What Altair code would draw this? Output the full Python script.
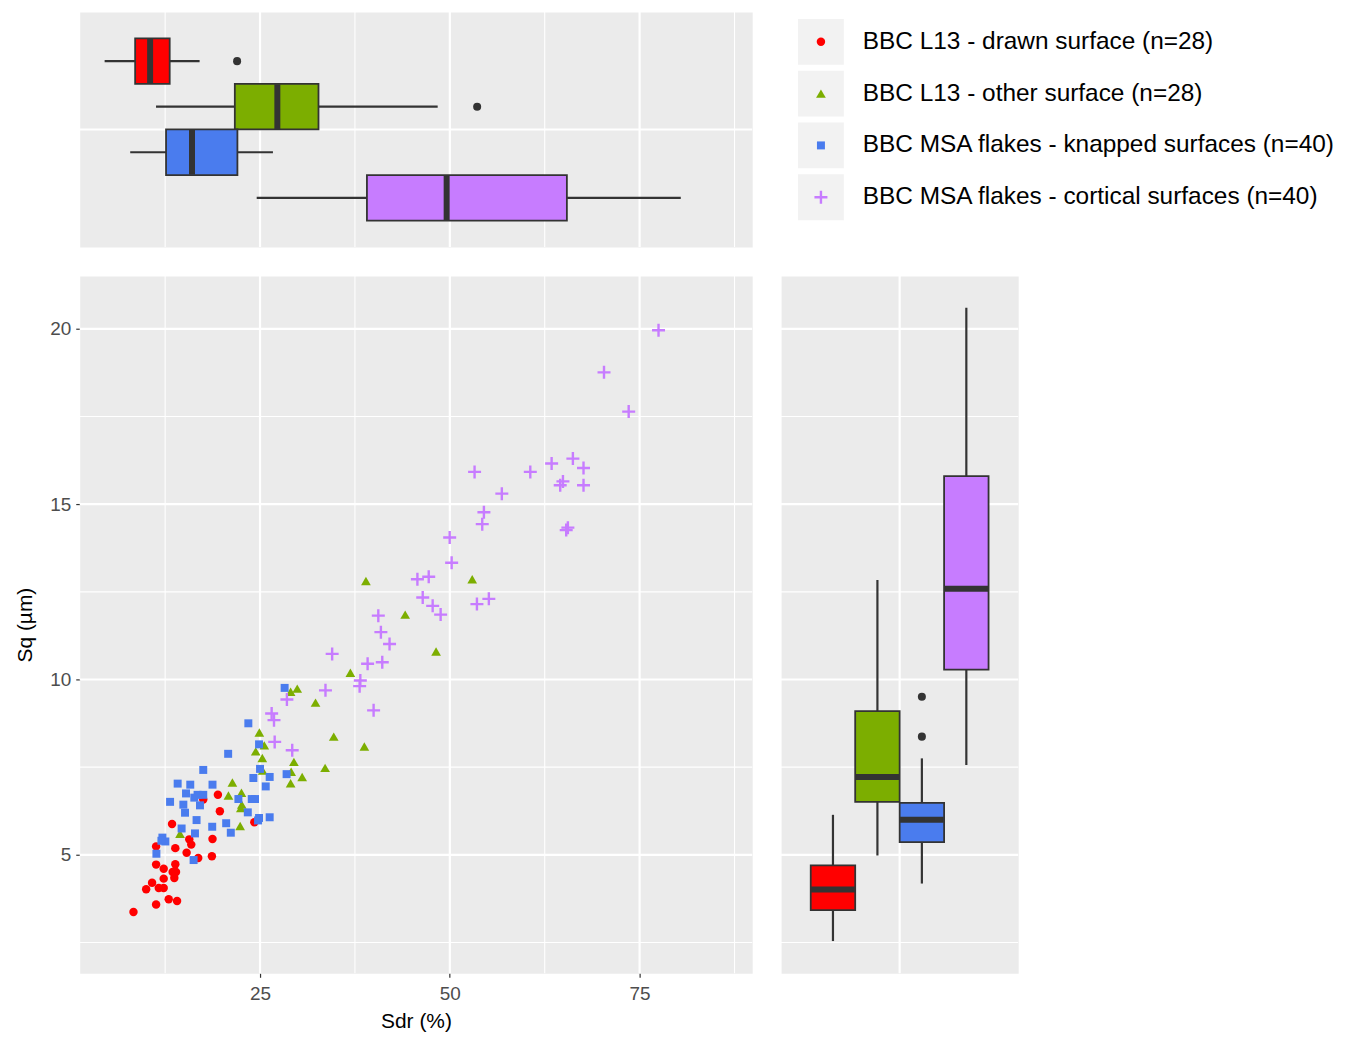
import altair as alt
import pandas as pd

# ---------------- data ----------------
groups = [
    "BBC L13 - drawn surface (n=28)",
    "BBC L13 - other surface (n=28)",
    "BBC MSA flakes - knapped surfaces (n=40)",
    "BBC MSA flakes - cortical surfaces (n=40)",
]
colors = ["#FF0000", "#7CAE00", "#4A7CEE", "#C77CFF"]

red_sdr = [8.33, 11.31, 12.97, 14.07, 10.0, 10.78, 11.66, 12.31, 12.31, 13.71, 13.93, 13.49, 11.31, 12.31,
           13.84, 11.31, 13.84, 13.41, 15.33, 15.68, 15.94, 16.86, 18.66, 18.74, 19.71, 19.45, 17.52, 24.25]
red_sq = [3.37, 3.58, 3.73, 3.68, 4.02, 4.2, 4.05, 4.05, 4.32, 4.34, 4.51, 4.51, 4.72, 4.6,
          4.73, 5.24, 5.19, 5.88, 5.06, 5.44, 5.29, 4.91, 4.96, 5.45, 6.24, 6.71, 6.58, 5.93]

green_sdr = [29.9, 29.03, 32.31, 24.91, 34.71, 25.56, 24.43, 25.3, 25.35, 29.46, 29.1, 33.57, 30.55, 29.03,
             21.36, 22.55, 20.84, 22.6, 22.47, 22.38, 14.46, 38.95, 44.12, 48.19, 36.9, 52.95, 38.74]
green_sq = [9.74, 9.65, 9.34, 8.49, 8.37, 8.12, 7.95, 7.76, 7.4, 7.65, 7.37, 7.48, 7.22, 7.04,
            7.06, 6.77, 6.69, 6.43, 6.33, 5.82, 5.6, 12.81, 11.85, 10.8, 10.19, 12.86, 8.09]

blue_sdr = [28.24, 23.46, 20.8, 17.52, 14.15, 15.81, 18.74, 15.25, 16.77, 17.52, 16.34, 17.09, 13.15, 14.9,
            15.12, 16.64, 14.67, 16.43, 12.14, 12.01, 12.53, 11.35, 16.25, 18.7, 20.54, 21.15, 22.15, 23.91,
            24.34, 23.39, 24.87, 24.74, 26.27, 24.12, 25.75, 26.27, 25.0, 24.87, 28.5]
blue_sq = [9.76, 8.75, 7.88, 7.42, 7.03, 7.0, 7.0, 6.75, 6.71, 6.71, 6.63, 6.41, 6.51, 6.43,
           6.2, 5.99, 5.75, 5.61, 5.49, 5.4, 5.38, 5.03, 4.85, 5.8, 5.9, 5.63, 6.59, 6.59,
           6.59, 6.21, 6.05, 5.98, 6.07, 7.19, 6.95, 7.22, 7.45, 8.15, 7.3]

purple_sdr = [77.49, 70.31, 73.56, 53.26, 60.6, 63.41, 66.21, 67.61, 64.9, 64.54, 67.61, 56.85, 54.49, 54.27,
              65.55, 65.33, 49.98, 50.24, 45.73, 47.22, 46.43, 47.74, 48.79, 53.57, 55.14, 40.58, 40.92, 42.06,
              39.17, 41.1, 38.21, 38.12, 39.96, 34.5, 33.62, 28.54, 26.53, 26.84, 26.93, 29.24]
purple_sq = [19.96, 18.76, 17.64, 15.92, 15.92, 16.16, 16.30, 16.03, 15.65, 15.54, 15.54, 15.30, 14.77, 14.43,
             14.33, 14.26, 14.05, 13.33, 12.86, 12.93, 12.34, 12.10, 11.85, 12.15, 12.30, 11.82, 11.35, 11.01,
             10.45, 10.49, 9.97, 9.81, 9.12, 10.73, 9.69, 9.43, 9.03, 8.84, 8.22, 7.98]

# box-plot summaries (Sdr, top margin)
sdr_lo = [4.53, 11.3, 7.9, 24.56]
sdr_q1 = [8.55, 21.68, 12.62, 39.08]
sdr_med = [10.52, 27.28, 16.04, 49.58]
sdr_q3 = [13.1, 32.7, 22.02, 65.42]
sdr_hi = [17.04, 48.4, 26.7, 80.42]
sdr_out_group = [groups[0], groups[1]]
sdr_out_value = [21.98, 53.6]

# box-plot summaries (Sq, right margin)
sq_lo = [2.54, 4.98, 4.18, 7.56]
sq_q1 = [3.42, 6.51, 5.36, 10.28]
sq_med = [4.01, 7.22, 6.0, 12.59]
sq_q3 = [4.70, 9.1, 6.48, 15.8]
sq_hi = [6.14, 12.84, 7.75, 20.6]
sq_out_group = [groups[2], groups[2]]
sq_out_value = [8.37, 9.51]

# axis ticks / grid lines
x_major = [25, 50, 75]
x_minor = [12.5, 37.5, 62.5, 87.5]
y_major = [5, 10, 15, 20]
y_minor = [2.5, 7.5, 12.5, 17.5]
x_domain = [1.25, 89.83]
y_domain = [1.62, 21.51]

# ---------------- tables ----------------
pts = pd.concat([
    pd.DataFrame({"group": groups[0], "sdr": red_sdr, "sq": red_sq}),
    pd.DataFrame({"group": groups[1], "sdr": green_sdr, "sq": green_sq}),
    pd.DataFrame({"group": groups[2], "sdr": blue_sdr, "sq": blue_sq}),
    pd.DataFrame({"group": groups[3], "sdr": purple_sdr, "sq": purple_sq}),
], ignore_index=True)

sum_sdr = pd.DataFrame({"group": groups, "lo": sdr_lo, "q1": sdr_q1, "med": sdr_med,
                        "q3": sdr_q3, "hi": sdr_hi, "panel": "all"})
out_sdr = pd.DataFrame({"group": sdr_out_group, "value": sdr_out_value, "panel": "all"})
sum_sq = pd.DataFrame({"group": groups, "lo": sq_lo, "q1": sq_q1, "med": sq_med,
                       "q3": sq_q3, "hi": sq_hi, "panel": "all"})
out_sq = pd.DataFrame({"group": sq_out_group, "value": sq_out_value, "panel": "all"})
panel_df = pd.DataFrame({"panel": ["all"]})

FONT = "Liberation Sans"
BG = "#EBEBEB"
DARK = "#333333"

xs = alt.Scale(domain=x_domain, nice=False, zero=False)
ys = alt.Scale(domain=y_domain, nice=False, zero=False)
cs = alt.Scale(domain=groups, range=colors)
color_enc = alt.Color("group:N", scale=cs, legend=None)

shapes = ["circle", "triangle-up", "square", "M-1,0L1,0M0,-1L0,1"]
sizes = [72, 95, 64, 170]

x_axis = alt.Axis(values=x_major, grid=False, domain=False, tickColor=DARK, tickSize=4, tickWidth=1.2,
                  labelColor="#4D4D4D", labelFontSize=19, labelFont=FONT, labelPadding=7,
                  titleFontSize=21, titleFont=FONT, titleFontWeight="normal", titleColor="black",
                  titlePadding=7)
y_axis = alt.Axis(values=y_major, grid=False, domain=False, tickColor=DARK, tickSize=4, tickWidth=1.2,
                  labelColor="#4D4D4D", labelFontSize=19, labelFont=FONT, labelPadding=5,
                  titleFontSize=21, titleFont=FONT, titleFontWeight="normal", titleColor="black",
                  titlePadding=14)
X_TITLE = "Sdr (%)"
Y_TITLE = "Sq (µm)"


def vgrid(values, width, with_axis=False):
    if with_axis:
        xe = alt.X("v:Q", scale=xs, axis=x_axis, title=X_TITLE)
    else:
        xe = alt.X("v:Q", scale=xs, axis=None)
    return alt.Chart(pd.DataFrame({"v": values})).mark_rule(color="white", strokeWidth=width).encode(x=xe)


def hgrid(values, width, with_axis=False):
    if with_axis:
        ye = alt.Y("v:Q", scale=ys, axis=y_axis, title=Y_TITLE)
    else:
        ye = alt.Y("v:Q", scale=ys, axis=None)
    return alt.Chart(pd.DataFrame({"v": values})).mark_rule(color="white", strokeWidth=width).encode(y=ye)


def point_layers(data, x_enc, y_enc):
    layers = []
    for g, shp, sz in zip(groups, shapes, sizes):
        if shp.startswith("M"):
            opts = dict(shape=shp, size=sz, filled=False, strokeWidth=2.4, opacity=1)
        else:
            opts = dict(shape=shp, size=sz, filled=True, opacity=1)
        layers.append(
            alt.Chart(data).transform_filter(alt.datum.group == g).mark_point(**opts)
            .encode(x=x_enc, y=y_enc, color=color_enc))
    return layers


# ---------------- scatter ----------------
scatter = alt.layer(
    vgrid(x_minor, 1.1, True), hgrid(y_minor, 1.1, True), vgrid(x_major, 2.2, True), hgrid(y_major, 2.2, True),
    *point_layers(pts,
                  alt.X("sdr:Q", scale=xs, title=X_TITLE, axis=x_axis),
                  alt.Y("sq:Q", scale=ys, title=Y_TITLE, axis=y_axis)),
).properties(width=675, height=700, view=alt.ViewBackground(fill=BG, stroke="transparent"))

# ---------------- top box plot (Sdr) ----------------
yb = alt.Y("panel:N", scale=alt.Scale(type="band", domain=["all"], paddingInner=0, paddingOuter=0.145),
           axis=None)
yo = alt.YOffset("group:N", scale=alt.Scale(domain=groups, paddingInner=0, paddingOuter=0))

top_box = alt.layer(
    vgrid(x_minor, 1.1), vgrid(x_major, 2.2),
    alt.Chart(panel_df).mark_rule(color="white", strokeWidth=2.2).encode(y=yb),
    alt.Chart(sum_sdr).mark_rule(color=DARK, strokeWidth=2.2).encode(
        x=alt.X("lo:Q", scale=xs, axis=None), x2="hi:Q", y=yb, yOffset=yo),
    alt.Chart(sum_sdr).mark_bar(stroke=DARK, strokeWidth=1.8, opacity=1).encode(
        x=alt.X("q1:Q", scale=xs, axis=None), x2="q3:Q", y=yb, yOffset=yo, color=color_enc),
    alt.Chart(sum_sdr).mark_tick(color=DARK, thickness=6, size=45, opacity=1).encode(
        x=alt.X("med:Q", scale=xs, axis=None), y=yb, yOffset=yo),
    alt.Chart(out_sdr).mark_circle(color=DARK, size=65, opacity=1).encode(
        x=alt.X("value:Q", scale=xs, axis=None), y=yb, yOffset=yo),
).properties(width=675, height=236, view=alt.ViewBackground(fill=BG, stroke="transparent"))

# ---------------- right box plot (Sq) ----------------
xb = alt.X("panel:N", scale=alt.Scale(type="band", domain=["all"], paddingInner=0, paddingOuter=0.1667),
           axis=None)
xo = alt.XOffset("group:N", scale=alt.Scale(domain=groups, paddingInner=0, paddingOuter=0))

right_box = alt.layer(
    hgrid(y_minor, 1.1), hgrid(y_major, 2.2),
    alt.Chart(panel_df).mark_rule(color="white", strokeWidth=2.2).encode(x=xb),
    alt.Chart(sum_sq).mark_rule(color=DARK, strokeWidth=2.2).encode(
        y=alt.Y("lo:Q", scale=ys, axis=None), y2="hi:Q", x=xb, xOffset=xo),
    alt.Chart(sum_sq).mark_bar(stroke=DARK, strokeWidth=1.8, opacity=1).encode(
        y=alt.Y("q1:Q", scale=ys, axis=None), y2="q3:Q", x=xb, xOffset=xo, color=color_enc),
    alt.Chart(sum_sq).mark_tick(color=DARK, thickness=6, size=44, opacity=1).encode(
        y=alt.Y("med:Q", scale=ys, axis=None), x=xb, xOffset=xo),
    alt.Chart(out_sq).mark_circle(color=DARK, size=65, opacity=1).encode(
        y=alt.Y("value:Q", scale=ys, axis=None), x=xb, xOffset=xo),
).properties(width=238, height=700, view=alt.ViewBackground(fill=BG, stroke="transparent"))

# ---------------- legend panel ----------------
leg_df = pd.DataFrame({"group": groups})
ly = alt.Y("group:N", scale=alt.Scale(domain=groups, range=[4, 212]), axis=None)
keys = alt.Chart(leg_df).mark_square(size=2116, color="#F2F2F2", opacity=1).encode(x=alt.value(40), y=ly)
leg_syms = point_layers(leg_df, alt.value(40), ly)
leg_text = alt.Chart(leg_df).mark_text(align="left", baseline="middle", fontSize=24.5, font=FONT,
                                       color="black").encode(x=alt.value(82), y=ly, text="group:N")
legend = alt.layer(keys, *leg_syms, leg_text).properties(
    width=555, height=236, view=alt.ViewBackground(fill="white", stroke="transparent"))

chart = alt.concat(top_box, legend, scatter, right_box, columns=2, spacing=25, align="each").properties(
    padding={"left": 6, "top": 0, "right": 0, "bottom": 0}
).configure(font=FONT).configure_view(stroke="transparent")

chart.save("out.html", embed_options={"renderer": "svg", "actions": False})
